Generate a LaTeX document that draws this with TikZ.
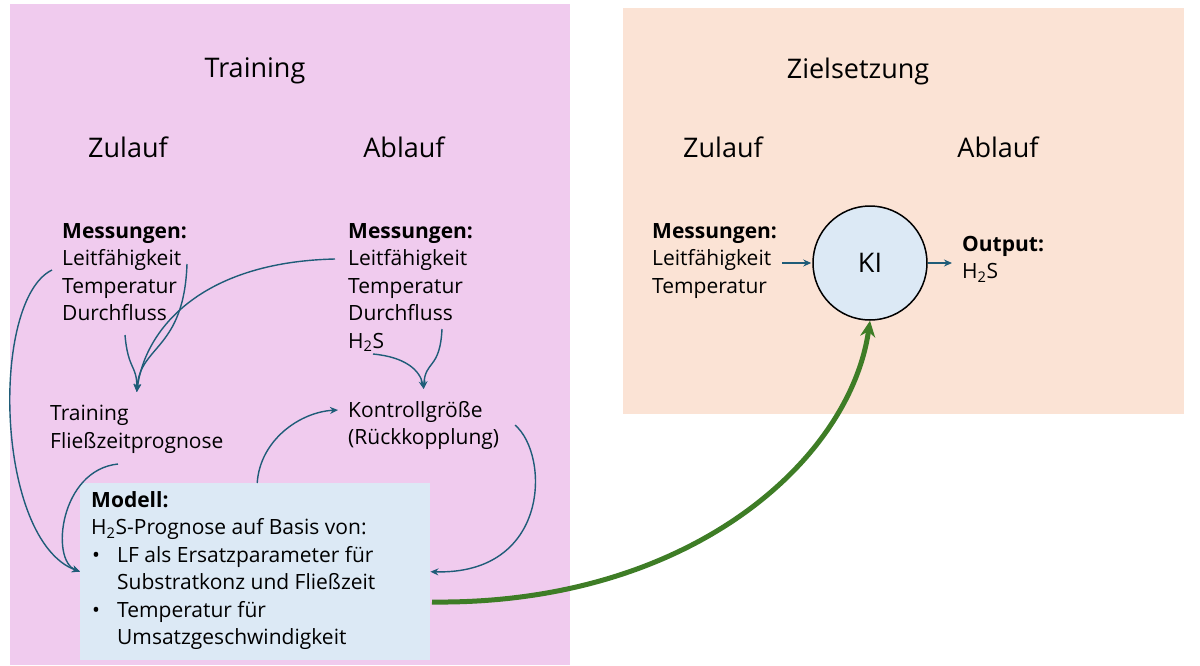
\documentclass[tikz,border=0pt]{standalone}
\usepackage{fontspec}
\setmainfont{Open Sans}
\usetikzlibrary{arrows.meta}

\definecolor{trainpink}{HTML}{F0CBEE}
\definecolor{goalpeach}{HTML}{FBE3D5}
\definecolor{modelblue}{HTML}{DCE9F5}
\definecolor{flowteal}{HTML}{1F5C78}
\definecolor{kigreen}{HTML}{3E7D26}

\tikzset{
  title/.style={inner sep=0pt, font=\fontsize{27}{30}\selectfont},
  body/.style={align=left, inner sep=0pt, anchor=north west, font=\fontsize{21}{27.5}\selectfont},
  flow/.style={draw=flowteal, line width=1.4pt, -{Stealth[length=8pt,width=7pt]}},
}

\begin{document}
\begin{tikzpicture}[x=1pt,y=-1pt]
    \useasboundingbox (0,0) rectangle (1200,665);

    % panels
    \fill [trainpink] (10,4) rectangle (570,665);
    \fill [goalpeach] (623,8) rectangle (1184,414);

    % titles
    \node [title] (ttrain) at (255,71) {Training};
    \node [title] (tzul) at (128,147) {Zulauf};
    \node [title] (tabl) at (404,147) {Ablauf};
    \node [title] (tziel) at (858,71) {Zielsetzung};
    \node [title] (tzul2) at (723,147) {Zulauf};
    \node [title] (tabl2) at (998,147) {Ablauf};

    % training side
    \node [body] (zmess) at (62,223) {\textbf{Messungen:}\\Leitfähigkeit\\Temperatur\\Durchfluss};
    \node [body] (amess) at (348,223) {\textbf{Messungen:}\\Leitfähigkeit\\Temperatur\\Durchfluss\\H\textsubscript{2}S};
    \node [body] (fprog) at (50,405) {Training\\Fließzeitprognose};
    \node [body] (kontr) at (348,401) {Kontrollgröße\\(Rückkopplung)};

    \node [fill=modelblue, inner sep=0pt, minimum width=350pt, minimum height=177pt, anchor=north west] (modell) at (80,483) {};
    \node [body] (mtext) at (91,491) {\textbf{Modell:}\\
        H\textsubscript{2}S-Prognose auf Basis von:\\
        \hspace*{1pt}\makebox[25pt][l]{\textbullet}LF als Ersatzparameter für\\
        \hspace*{26pt}Substratkonz und Fließzeit\\
        \hspace*{1pt}\makebox[25pt][l]{\textbullet}Temperatur für\\
        \hspace*{26pt}Umsatzgeschwindigkeit};

    % target side
    \node [body] (zmess2) at (652,223) {\textbf{Messungen:}\\Leitfähigkeit\\Temperatur};
    \node [circle, draw, line width=1.5pt, fill=modelblue, minimum size=114pt, font=\fontsize{27}{30}\selectfont] (ki) at (870,263) {KI};
    \node [body] (output) at (962,236) {\textbf{Output:}\\H\textsubscript{2}S};

    % connectors
    \coordinate (zleit) at (52,270);
    \coordinate (zleitr) at (187,264);
    \coordinate (zdurch) at (125,335);
    \coordinate (aleit) at (335,259);
    \coordinate (adurch) at (442,329);
    \coordinate (ahs) at (373,354);
    \coordinate (fbot) at (118,464);
    \coordinate (kleft) at (338,410);
    \coordinate (kright) at (515,425);
    \coordinate (mout) at (432,602);

    \draw [flow] (zleit) .. controls (-10,300) and (-5,540) .. (modell.west);
    \draw [flow] (zleitr) .. controls (184,350) and (140,345) .. ([yshift=13pt]fprog.north);
    \draw [flow] (zdurch) .. controls (128,370) and (137,365) .. ([yshift=13pt]fprog.north);
    \draw [flow] (aleit) .. controls (200,262) and (145,330) .. ([yshift=13pt]fprog.north);
    \draw [flow] (adurch) .. controls (440,370) and (425,360) .. ([yshift=12pt]kontr.north);
    \draw [flow] (ahs) .. controls (405,357) and (420,370) .. ([yshift=12pt]kontr.north);
    \draw [flow] (fbot) .. controls (60,470) and (50,560) .. (modell.west);
    \draw [flow] ([xshift=2pt]modell.north) .. controls (260,440) and (300,412) .. (kleft);
    \draw [flow] (kright) .. controls (550,455) and (550,575) .. (modell.east);

    \draw [flow, shorten <=5pt, shorten >=1pt] (zmess2.east |- ki) -- (ki);
    \draw [flow, shorten >=10pt] (ki) -- (output.west |- ki);

    \draw [draw=kigreen, line width=5pt, -{Stealth[length=16pt,width=15pt]}] (mout) .. controls (690,605) and (850,460) .. (ki.south);
\end{tikzpicture}
\end{document}
